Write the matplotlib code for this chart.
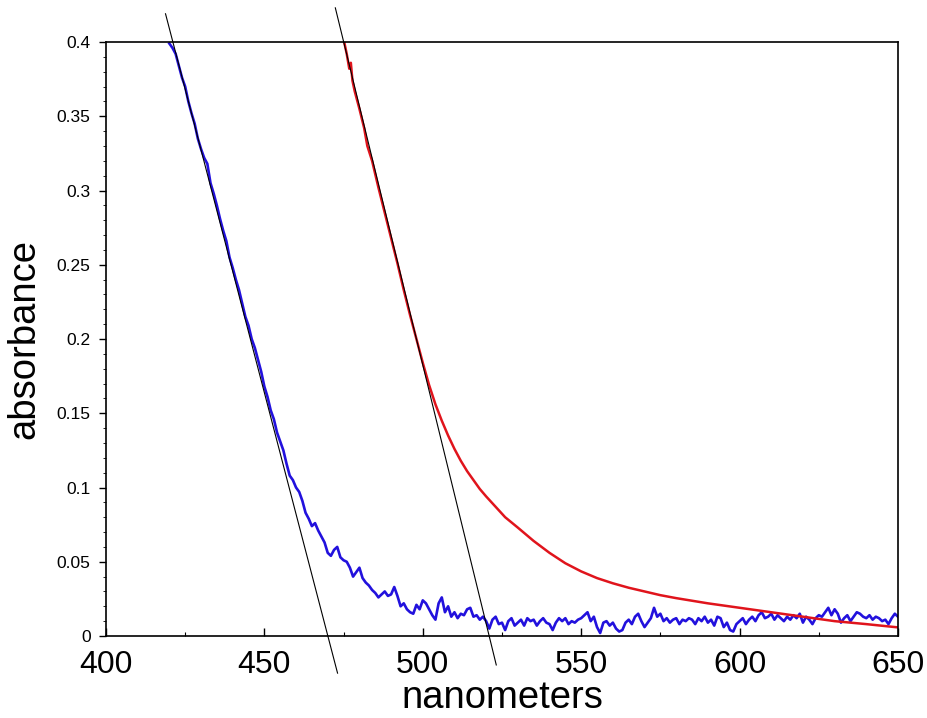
import matplotlib.pyplot as plt
from matplotlib.ticker import MultipleLocator

plt.rcParams['font.family'] = ['Liberation Sans', 'DejaVu Sans']

# blue spectrum, 1 nm steps from 420 to 650
blue_start = 420
blue_abs = [
    0.399, 0.396, 0.392, 0.384, 0.376, 0.370, 0.360, 0.352, 0.345, 0.335,
    0.328, 0.322, 0.318, 0.305, 0.298, 0.290, 0.281, 0.273, 0.266, 0.255,
    0.248, 0.240, 0.233, 0.224, 0.215, 0.209, 0.200, 0.194, 0.186, 0.178,
    0.168, 0.161, 0.152, 0.146, 0.137, 0.131, 0.125, 0.116, 0.108, 0.105,
    0.100, 0.097, 0.091, 0.083, 0.079, 0.074, 0.076, 0.071, 0.067, 0.063,
    0.056, 0.054, 0.058, 0.060, 0.053, 0.051, 0.050, 0.046, 0.040, 0.043,
    0.046, 0.039, 0.036, 0.034, 0.031, 0.029, 0.026, 0.028, 0.030, 0.027,
    0.028, 0.033, 0.027, 0.020, 0.022, 0.018, 0.016, 0.015, 0.021, 0.018,
    0.024, 0.022, 0.018, 0.014, 0.011, 0.022, 0.026, 0.016, 0.020, 0.013,
    0.016, 0.012, 0.015, 0.014, 0.018, 0.019, 0.013, 0.014, 0.011, 0.013,
    0.010, 0.005, 0.011, 0.013, 0.008, 0.009, 0.004, 0.010, 0.012, 0.007,
    0.009, 0.011, 0.007, 0.012, 0.010, 0.011, 0.007, 0.010, 0.012, 0.009,
    0.008, 0.004, 0.009, 0.012, 0.010, 0.012, 0.008, 0.010, 0.009, 0.011,
    0.012, 0.014, 0.016, 0.010, 0.013, 0.006, 0.002, 0.009, 0.010, 0.007,
    0.009, 0.005, 0.003, 0.004, 0.009, 0.011, 0.008, 0.013, 0.015, 0.010,
    0.006, 0.009, 0.012, 0.019, 0.013, 0.015, 0.010, 0.012, 0.009, 0.011,
    0.012, 0.008, 0.011, 0.010, 0.012, 0.011, 0.008, 0.012, 0.010, 0.013,
    0.009, 0.011, 0.007, 0.013, 0.012, 0.006, 0.009, 0.004, 0.003, 0.008,
    0.010, 0.012, 0.008, 0.011, 0.013, 0.010, 0.014, 0.016, 0.012, 0.013,
    0.015, 0.011, 0.014, 0.012, 0.010, 0.013, 0.011, 0.014, 0.012, 0.015,
    0.009, 0.013, 0.011, 0.008, 0.012, 0.014, 0.013, 0.016, 0.019, 0.014,
    0.018, 0.015, 0.009, 0.012, 0.014, 0.010, 0.013, 0.016, 0.015, 0.013,
    0.012, 0.014, 0.011, 0.013, 0.012, 0.010, 0.011, 0.008, 0.012, 0.015,
    0.013,
]
blue_nm = list(range(blue_start, blue_start + len(blue_abs)))

# red spectrum
red_nm = [475.2, 476.0, 476.8, 477.3, 477.8, 478.5, 480, 481.5, 482.5, 484, 486,
          488, 490, 492, 494, 496, 498, 500, 502, 504, 506, 508, 510, 512,
          514, 516, 518, 520, 523, 526, 530, 535, 540, 545, 550, 555, 560,
          565, 570, 575, 580, 590, 600, 610, 620, 630, 640, 650]
red_abs = [0.400, 0.392, 0.382, 0.386, 0.374, 0.367, 0.355, 0.342, 0.330, 0.320,
           0.302, 0.285, 0.268, 0.251, 0.233, 0.216, 0.200, 0.184, 0.169, 0.156,
           0.145, 0.135, 0.126, 0.118, 0.111, 0.105, 0.099, 0.094, 0.087, 0.080,
           0.073, 0.064, 0.056, 0.049, 0.0435, 0.039, 0.0355, 0.0325, 0.030, 0.0275,
           0.0255, 0.022, 0.019, 0.016, 0.013, 0.010, 0.008, 0.0058]

# tangent lines drawn on the edges
tan1_nm = [418.8, 473.1]
tan1_abs = [0.419, -0.025]
tan2_nm = [472.4, 523.2]
tan2_abs = [0.423, -0.0195]

fig = plt.figure(figsize=(9.27, 7.18), dpi=100)
ax = fig.add_axes([0.1143, 0.1142, 0.8544, 0.8273])

ax.plot(blue_nm, blue_abs, color='#2211dd', lw=1.9)
ax.plot(red_nm, red_abs, color='#e0141c', lw=1.8)
ax.plot(tan1_nm, tan1_abs, color='black', lw=0.8, clip_on=False)
ax.plot(tan2_nm, tan2_abs, color='black', lw=0.8, clip_on=False)

ax.set_xlim(400, 650)
ax.set_ylim(0, 0.4)
ax.xaxis.set_major_locator(MultipleLocator(50))
ax.xaxis.set_minor_locator(MultipleLocator(25))
ax.yaxis.set_minor_locator(MultipleLocator(0.01))
ax.set_yticks([0, 0.05, 0.1, 0.15, 0.2, 0.25, 0.3, 0.35, 0.4])
ax.set_yticklabels(['0', '0.05', '0.1', '0.15', '0.2', '0.25', '0.3', '0.35', '0.4'])

ax.tick_params(axis='x', which='major', direction='in', length=6, width=1, labelsize=23, pad=10)
ax.tick_params(axis='x', which='minor', direction='in', length=3, width=0.8)
ax.tick_params(axis='y', which='major', direction='out', length=5, width=1, labelsize=12.5, pad=6)
ax.tick_params(axis='y', which='minor', direction='out', length=2.5, width=0.6)

for s in ax.spines.values():
    s.set_linewidth(1.2)

ax.set_xlabel('nanometers', fontsize=27.5, labelpad=0)
ax.set_ylabel('absorbance', fontsize=27.5, labelpad=10)

fig.savefig('out.png', dpi=100)
